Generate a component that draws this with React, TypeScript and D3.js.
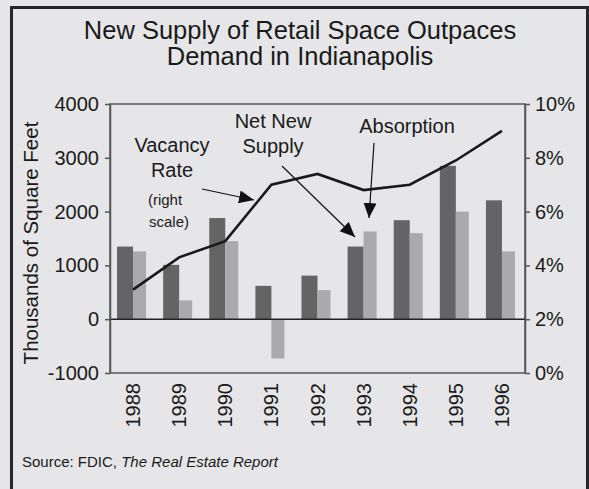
import React, { useEffect, useRef } from "react";
import { axisLeft, axisRight, line, scaleBand, scaleLinear, select } from "d3";

const years = ["1988", "1989", "1990", "1991", "1992", "1993", "1994", "1995", "1996"];
const netNewSupply = [1350, 1010, 1880, 620, 810, 1350, 1840, 2850, 2210];
const absorption = [1260, 350, 1450, -730, 540, 1630, 1600, 2000, 1260];
const vacancyRate = [3.1, 4.3, 4.9, 7.0, 7.4, 6.8, 7.0, 7.9, 9.0];
const leftTicks = [-1000, 0, 1000, 2000, 3000, 4000];
const rightTicks = [0, 2, 4, 6, 8, 10];

const W = 589;
const H = 489;
const FONT = "'Liberation Sans', Arial, Helvetica, sans-serif";

export default function App() {
  const ref = useRef<SVGSVGElement>(null);

  useEffect(() => {
    const svg = select(ref.current);
    svg.selectAll("*").remove();

    const margin = { top: 104, right: 64, bottom: 116, left: 110 };
    const x = scaleBand<string>().domain(years).range([margin.left, W - margin.right]);
    const y = scaleLinear().domain([-1000, 4000]).range([H - margin.bottom, margin.top]);
    const yR = scaleLinear().domain([0, 10]).range([H - margin.bottom, margin.top]);
    const cx = (yr: string) => (x(yr) as number) + x.bandwidth() / 2;

    svg.append("rect").attr("width", W).attr("height", H).attr("fill", "#e6e6e8");

    const defs = svg.append("defs");
    defs
      .append("marker")
      .attr("id", "head")
      .attr("markerUnits", "userSpaceOnUse")
      .attr("markerWidth", 16)
      .attr("markerHeight", 14)
      .attr("refX", 15)
      .attr("refY", 6.5)
      .attr("orient", "auto")
      .append("path")
      .attr("d", "M0,0 L15,6.5 L0,13 Z")
      .attr("fill", "#111");

    // title
    const title = svg
      .append("text")
      .attr("text-anchor", "middle")
      .attr("font-family", FONT)
      .attr("font-size", 25.5)
      .attr("fill", "#1a1a1a");
    title.append("tspan").attr("x", 300).attr("y", 39).text("New Supply of Retail Space Outpaces");
    title.append("tspan").attr("x", 300).attr("y", 65).text("Demand in Indianapolis");

    // bars
    svg
      .append("g")
      .selectAll("rect")
      .data(years)
      .join("rect")
      .attr("x", (d) => cx(d) - 16)
      .attr("width", 16)
      .attr("y", (d, i) => y(Math.max(0, netNewSupply[i])))
      .attr("height", (d, i) => Math.abs(y(netNewSupply[i]) - y(0)))
      .attr("fill", "#646464");

    svg
      .append("g")
      .selectAll("rect")
      .data(years)
      .join("rect")
      .attr("x", (d) => cx(d))
      .attr("width", 13)
      .attr("y", (d, i) => y(Math.max(0, absorption[i])))
      .attr("height", (d, i) => Math.abs(y(absorption[i]) - y(0)))
      .attr("fill", "#aaaaad");

    // plot frame
    svg
      .append("rect")
      .attr("x", margin.left)
      .attr("y", margin.top)
      .attr("width", W - margin.right - margin.left)
      .attr("height", H - margin.bottom - margin.top)
      .attr("fill", "none")
      .attr("stroke", "#555")
      .attr("stroke-width", 1.5);

    // zero line
    svg
      .append("line")
      .attr("x1", margin.left)
      .attr("x2", W - margin.right)
      .attr("y1", y(0))
      .attr("y2", y(0))
      .attr("stroke", "#222")
      .attr("stroke-width", 1.5);

    // vacancy line
    const path = line<number>()
      .x((d, i) => cx(years[i]))
      .y((d) => yR(d));
    svg
      .append("path")
      .attr("d", path(vacancyRate))
      .attr("fill", "none")
      .attr("stroke", "#1a1a1a")
      .attr("stroke-width", 2.6)
      .attr("stroke-linejoin", "miter");

    // axes
    const styleAxis = (g: any) => {
      g.select(".domain").attr("stroke", "#555").attr("stroke-width", 1.5);
      g.selectAll(".tick line").attr("stroke", "#555").attr("stroke-width", 1.5);
      g.selectAll(".tick text")
        .attr("font-family", FONT)
        .attr("font-size", 20)
        .attr("fill", "#1a1a1a");
    };
    svg
      .append("g")
      .attr("transform", `translate(${margin.left},0)`)
      .call(axisLeft(y).tickValues(leftTicks).tickSize(5).tickSizeOuter(0).tickPadding(6).tickFormat((d: any) => `${d}`))
      .call(styleAxis);
    svg
      .append("g")
      .attr("transform", `translate(${W - margin.right},0)`)
      .call(axisRight(yR).tickValues(rightTicks).tickSize(5).tickSizeOuter(0).tickPadding(5).tickFormat((d: any) => `${d}%`))
      .call(styleAxis);

    // year labels
    svg
      .append("g")
      .selectAll("text")
      .data(years)
      .join("text")
      .attr("transform", (d) => `translate(${cx(d)},${H - margin.bottom + 10}) rotate(-90)`)
      .attr("text-anchor", "end")
      .attr("dominant-baseline", "central")
      .attr("font-family", FONT)
      .attr("font-size", 20)
      .attr("fill", "#1a1a1a")
      .text((d) => d);

    // y title
    svg
      .append("text")
      .attr("transform", `translate(38,243) rotate(-90)`)
      .attr("text-anchor", "middle")
      .attr("font-family", FONT)
      .attr("font-size", 20.5)
      .attr("fill", "#1a1a1a")
      .text("Thousands of Square Feet");

    // annotations
    const label = (t: string, px: number, py: number, size = 20) =>
      svg
        .append("text")
        .attr("x", px)
        .attr("y", py)
        .attr("text-anchor", "middle")
        .attr("font-family", FONT)
        .attr("font-size", size)
        .attr("fill", "#1a1a1a")
        .text(t);
    label("Vacancy", 172, 152);
    label("Rate", 172, 177);
    label("(right", 165, 205, 15);
    label("scale)", 169, 227, 15);
    label("Net New", 273, 128);
    label("Supply", 273, 153);
    label("Absorption", 407, 133);

    const arrow = (x1: number, y1: number, x2: number, y2: number) =>
      svg
        .append("line")
        .attr("x1", x1)
        .attr("y1", y1)
        .attr("x2", x2)
        .attr("y2", y2)
        .attr("stroke", "#111")
        .attr("stroke-width", 1.2)
        .attr("marker-end", "url(#head)");
    arrow(202, 189, 254, 200);
    arrow(282, 166, 355, 237);
    arrow(374, 143, 369, 218);

    // source
    const src = svg
      .append("text")
      .attr("x", 22)
      .attr("y", 467)
      .attr("font-family", FONT)
      .attr("font-size", 15)
      .attr("fill", "#1a1a1a");
    src.append("tspan").text("Source: FDIC, ");
    src.append("tspan").attr("font-style", "italic").text("The Real Estate Report");

    // outer frame
    svg
      .append("rect")
      .attr("x", 11.5)
      .attr("y", 7.5)
      .attr("width", 576)
      .attr("height", 500)
      .attr("fill", "none")
      .attr("stroke", "#262626")
      .attr("stroke-width", 3);
  }, []);

  return (
    <svg
      ref={ref}
      width={W}
      height={H}
      style={{ position: "absolute", left: 0, top: 0, display: "block" }}
    />
  );
}
